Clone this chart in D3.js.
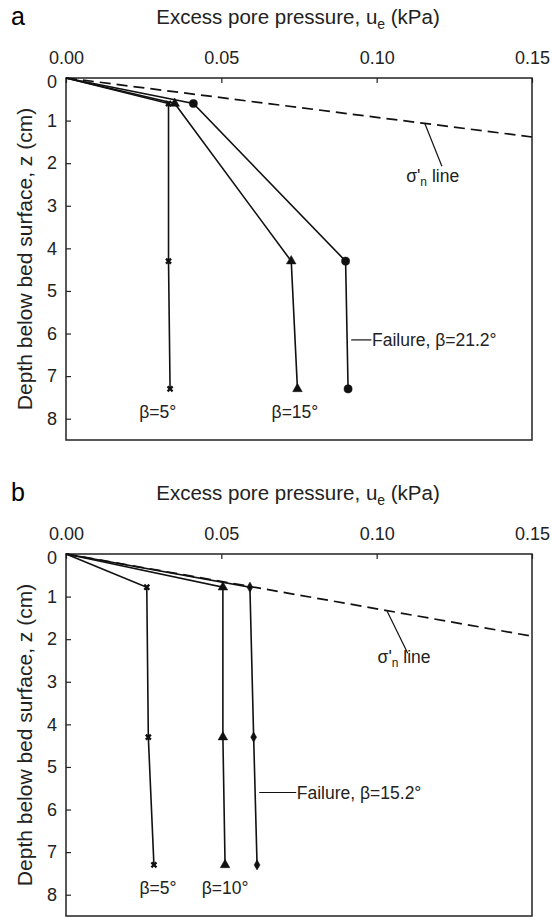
<!DOCTYPE html>
<html lang="en">
<head>
    <meta charset="UTF-8">
    <title>Excess pore pressure profiles</title>
    <script src="https://d3js.org/d3.v7.min.js"></script>
    <style>
        body { margin: 0; background: #fff; font-family: "Liberation Sans", Arial, sans-serif; }
        .tick-label { font-size: 18px; fill: #222; }
        .note { font-size: 17.5px; fill: #222; }
    </style>
</head>
<body>
<svg id="chart" width="552" height="918"></svg>
<script>
    // Ticks
    const uTicks = [0, 0.05, 0.10, 0.15];
    const zTicks = [0, 1, 2, 3, 4, 5, 6, 7, 8];

    // Panel a: depth of the measuring points (cm) and u_e (kPa)
    const depthsA = [0, 0.6, 4.3, 7.3];
    const beta5A = [0, 0.033, 0.033, 0.0335];
    const beta15A = [0, 0.035, 0.0725, 0.0745];
    const beta212A = [0, 0.041, 0.090, 0.0908];
    const sigmaA = { u: [0, 0.15], z: [0, 1.385] };

    // Panel b
    const depthsB = [0, 0.78, 4.3, 7.3];
    const beta5B = [0, 0.026, 0.0265, 0.0283];
    const beta10B = [0, 0.0505, 0.0505, 0.0512];
    const beta152B = [0, 0.0592, 0.0604, 0.0615];
    const sigmaB = { u: [0, 0.15], z: [0, 1.93] };

    const svg = d3.select("#chart");
    const left = 66, right = 532;

    function panel(opt) {
        const x = d3.scaleLinear().domain([0, 0.15]).range([left, right]);
        const y = d3.scaleLinear().domain([0, 8.5]).range([opt.top, opt.top + 362]);
        const g = svg.append("g");

        // panel letter and title
        g.append("text").attr("x", 11).attr("y", opt.top - 53)
            .style("font-size", "25px").text(opt.letter);
        const t = g.append("text").attr("x", 298).attr("y", opt.top - 54)
            .attr("text-anchor", "middle").style("font-size", "20.5px").attr("fill", "#222");
        t.append("tspan").text("Excess pore pressure, u");
        t.append("tspan").attr("dy", 5).style("font-size", "14px").text("e");
        t.append("tspan").attr("dy", -5).text(" (kPa)");

        // frame
        g.append("rect").attr("x", left).attr("y", opt.top)
            .attr("width", right - left).attr("height", 362)
            .attr("fill", "none").attr("stroke", "#222").attr("stroke-width", 1.5);

        // top axis, ticks pointing in
        const xa = g.append("g").attr("transform", `translate(0,${opt.top})`)
            .call(d3.axisTop(x).tickValues(uTicks).tickSizeInner(-5).tickSizeOuter(0)
                .tickPadding(14).tickFormat(d3.format(".2f")));
        xa.select(".domain").remove();
        xa.selectAll("line").attr("stroke", "#222").attr("stroke-width", 1.2);
        xa.selectAll("text").attr("class", "tick-label").attr("font-family", null).attr("font-size", null);

        const ya = g.append("g").attr("transform", `translate(${left},0)`)
            .call(d3.axisLeft(y).tickValues(zTicks).tickSizeInner(-5).tickSizeOuter(0)
                .tickPadding(9).tickFormat(d3.format("d")));
        ya.select(".domain").remove();
        ya.selectAll("line").attr("stroke", "#222").attr("stroke-width", 1.2);
        ya.selectAll("text").attr("class", "tick-label").attr("font-family", null).attr("font-size", null);
        // the "0" label sits just under the 0.00 label
        ya.selectAll("text").filter(d => d === 0).attr("dy", "0.5em");

        g.append("text")
            .attr("transform", `translate(32,${opt.top + 181}) rotate(-90)`)
            .attr("text-anchor", "middle").style("font-size", "21px").attr("fill", "#222")
            .text("Depth below bed surface, z (cm)");

        // sigma'_n line
        g.append("path")
            .datum(d3.zip(opt.sigma.u, opt.sigma.z))
            .attr("d", d3.line().x(d => x(d[0])).y(d => y(d[1])))
            .attr("fill", "none").attr("stroke", "#111").attr("stroke-width", 1.7)
            .attr("stroke-dasharray", "11,6");

        // profiles
        const line = d3.line().x(d => x(d[0])).y(d => y(d[1]));
        opt.series.forEach(s => {
            const pts = d3.zip(s.u, opt.depths);
            g.append("path").datum(pts).attr("d", line)
                .attr("fill", "none").attr("stroke", "#111").attr("stroke-width", 1.6);
            const sym = d3.symbol().type(s.symbol).size(s.size);
            g.selectAll(null).data(pts.slice(1)).enter().append("path")
                .attr("transform", d => `translate(${x(d[0])},${y(d[1])})${s.rotate ? " rotate(45)" : ""}`)
                .attr("d", sym)
                .attr("fill", "#111")
                .attr("stroke", s.symbol === d3.symbolCross ? "none" : "#111")
                .attr("stroke-width", 0.5);
        });

        // annotations
        opt.notes.forEach(n => {
            g.append("text").attr("class", "note")
                .attr("x", x(n.u)).attr("y", y(n.z))
                .attr("text-anchor", n.anchor || "middle").text(n.text);
        });
        opt.leaders.forEach(l => {
            g.append("line")
                .attr("x1", x(l[0])).attr("y1", y(l[1]))
                .attr("x2", x(l[2])).attr("y2", y(l[3]))
                .attr("stroke", "#111").attr("stroke-width", 1.2);
        });
        // sigma label with subscript
        const s = g.append("text").attr("class", "note")
            .attr("x", x(opt.sigmaLabel[0])).attr("y", y(opt.sigmaLabel[1]));
        s.append("tspan").text("σ'");
        s.append("tspan").attr("dy", 4).style("font-size", "12px").text("n");
        s.append("tspan").attr("dy", -4).text(" line");
    }

    panel({
        letter: "a", top: 78, depths: depthsA, sigma: sigmaA,
        series: [
            { u: beta5A, symbol: d3.symbolCross, size: 28, rotate: true },
            { u: beta15A, symbol: d3.symbolTriangle, size: 40 },
            { u: beta212A, symbol: d3.symbolCircle, size: 52 }
        ],
        notes: [
            { u: 0.0295, z: 7.98, text: "β=5°" },
            { u: 0.0737, z: 7.98, text: "β=15°" },
            { u: 0.0985, z: 6.3, text: "Failure, β=21.2°", anchor: "start" }
        ],
        leaders: [[0.0918, 6.15, 0.0983, 6.15], [0.1155, 1.067, 0.121, 2.07]],
        sigmaLabel: [0.1095, 2.45]
    });

    panel({
        letter: "b", top: 554, depths: depthsB, sigma: sigmaB,
        series: [
            { u: beta5B, symbol: d3.symbolCross, size: 28, rotate: true },
            { u: beta10B, symbol: d3.symbolTriangle, size: 40 },
            { u: beta152B, symbol: d3.symbolDiamond, size: 30 }
        ],
        notes: [
            { u: 0.0296, z: 7.98, text: "β=5°" },
            { u: 0.0512, z: 7.98, text: "β=10°" },
            { u: 0.0743, z: 5.75, text: "Failure, β=15.2°", anchor: "start" }
        ],
        leaders: [[0.0622, 5.6, 0.0741, 5.6], [0.1033, 1.33, 0.110, 2.33]],
        sigmaLabel: [0.1003, 2.55]
    });
</script>
</body>
</html>
